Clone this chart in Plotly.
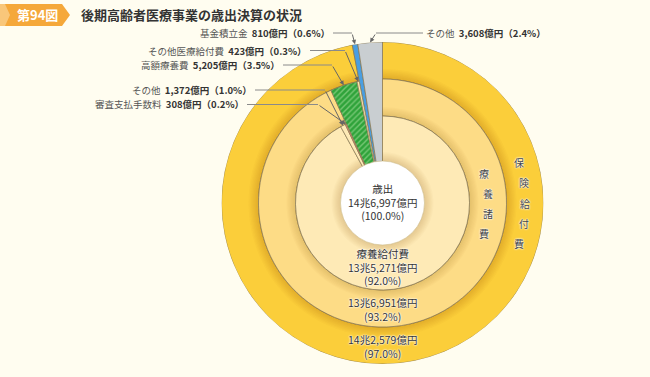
import math
import plotly.graph_objects as go

W, H = 650, 377

# ---------------- data ----------------
title_tag = "第94図"
title_text = "後期高齢者医療事業の歳出決算の状況"

total_label = "歳出"
total_value = 146997          # 億円
total_pct = 100.0

outer_names = ["保険給付費", "基金積立金", "その他"]
outer_values = [142579, 810, 3608]
outer_pcts = [97.0, 0.6, 2.4]

middle_names = ["療養諸費", "高額療養費", "その他医療給付費"]
middle_values = [136951, 5205, 423]
middle_pcts = [93.2, 3.5, 0.3]

inner_names = ["療養給付費", "その他", "審査支払手数料"]
inner_values = [135271, 1372, 308]
inner_pcts = [92.0, 1.0, 0.2]

# ---------------- geometry / style ----------------
CX, CY = 382.5, 203.0
R_OUT, R_MID, R_IN, R_WHITE = 161.0, 124.0, 87.0, 42.0
BG = "#FFFDF0"
Y1, Y2, Y3 = "#FBCE3A", "#FDDC86", "#FEEAB6"
BLUE, GREY, SALMON, LIGHT = "#4A9EE0", "#C9CED1", "#F0957C", "#FBEBB0"
GREEN_BG, GREEN_FG = "#2FA33A", "#BFEBB0"
EDGE = "#857650"
FONT = "Noto Sans CJK JP"


def px(x):
    return x / W


def py(y):
    return 1 - y / H


def fmt(v):
    cho, oku = divmod(v, 10000)
    return f"{cho}兆{oku:,}億円" if cho else f"{oku:,}億円"


def ang(v):
    return v / total_value * 360.0


def polar_px(r, a):
    t = math.radians(a)
    return CX + r * math.sin(t), CY - r * math.cos(t)


# cumulative angles (clockwise from 12 o'clock)
a_hoken = ang(outer_values[0])
a_kikin = a_hoken + ang(outer_values[1])
b_ryoyo = ang(middle_values[0])
b_kogaku = b_ryoyo + ang(middle_values[1])
c_kyufu = ang(inner_values[0])
c_other = c_kyufu + ang(inner_values[1])

fig = go.Figure()


def slice_(a0, a1, base, top, color, pattern=None):
    marker = dict(color=color, line=dict(color=EDGE, width=0.7))
    if pattern:
        marker["pattern"] = pattern
    fig.add_trace(go.Barpolar(theta=[(a0 + a1) / 2], width=[a1 - a0],
                              base=[base], r=[top - base], marker=marker,
                              hoverinfo="skip", showlegend=False))


def shadow(a0, a1, base, depth, strength, n=8):
    fig.add_trace(go.Barpolar(
        theta=[(a0 + a1) / 2] * n, width=[a1 - a0] * n, base=[base] * n,
        r=[depth * (n - i) / n for i in range(n)],
        marker=dict(color=f"rgba(130,90,0,{strength / n:.3f})", line=dict(width=0)),
        hoverinfo="skip", showlegend=False))


# outer ring
slice_(0, a_hoken, R_MID, R_OUT, Y1)
shadow(0, a_hoken, R_MID, 10, 0.22)
slice_(a_hoken, a_kikin, 0, R_OUT, BLUE)
slice_(a_kikin, 360, 0, R_OUT, GREY)
# middle ring
slice_(0, b_ryoyo, R_IN, R_MID, Y2)
shadow(0, b_ryoyo, R_IN, 9, 0.2)
slice_(b_ryoyo, b_kogaku, 0, R_MID, GREEN_BG,
       pattern=dict(shape="/", fgcolor=GREEN_FG, bgcolor=GREEN_BG, size=4, solidity=0.35))
slice_(b_kogaku, a_hoken, 0, R_MID, LIGHT)
# inner ring
slice_(0, c_kyufu, 0, R_IN, Y3)
shadow(0, c_kyufu, R_WHITE, 9, 0.2)
slice_(c_kyufu, c_other, 0, R_IN, Y3)
slice_(c_other, b_ryoyo, 0, R_IN, SALMON)

fig.update_layout(
    width=W, height=H, margin=dict(l=0, r=0, t=0, b=0),
    paper_bgcolor=BG, plot_bgcolor=BG,
    font=dict(family=FONT, color="#333"),
    polar=dict(
        domain=dict(x=[px(CX - R_OUT), px(CX + R_OUT)], y=[py(CY + R_OUT), py(CY - R_OUT)]),
        bgcolor="rgba(0,0,0,0)", bargap=0, hole=0,
        radialaxis=dict(visible=False, range=[0, R_OUT]),
        angularaxis=dict(visible=False, rotation=90, direction="clockwise"),
    ),
)

shapes = []
# white centre disc
shapes.append(dict(type="circle", xref="paper", yref="paper",
                   x0=px(CX - R_WHITE), x1=px(CX + R_WHITE),
                   y0=py(CY + R_WHITE), y1=py(CY - R_WHITE),
                   fillcolor="#FFFFFF", line=dict(color="#C9B98A", width=0.6)))


def path(points):
    return "M " + " L ".join(f"{px(x):.5f},{py(y):.5f}" for x, y in points) + " Z"


# title tag
shapes.append(dict(type="path", xref="paper", yref="paper",
                   path=path([(0, 4), (62, 4), (70, 15), (62, 26), (0, 26)]),
                   fillcolor="#F5A83A", line=dict(width=0)))
shapes.append(dict(type="path", xref="paper", yref="paper",
                   path=path([(0, 4), (5, 4), (10, 15), (5, 26), (0, 26)]),
                   fillcolor="#F9C77A", line=dict(width=0)))

ann = []


def text_ann(x, y, text, size, color, xanchor="center", shadow_=None, bold=False):
    f = dict(size=size, color=color, family=FONT)
    if shadow_:
        f["shadow"] = shadow_
    ann.append(dict(x=px(x), y=py(y), xref="paper", yref="paper",
                    xanchor=xanchor, yanchor="middle", borderpad=0,
                    text=f"<b>{text}</b>" if bold else text, showarrow=False, font=f))


text_ann(37, 15, title_tag, 13, "#FFFFFF", bold=True)
text_ann(80, 15, title_text, 13, "#333333", xanchor="left", bold=True)

LINE_C = "#8a8a8a"


def callout(name, value, pct, text_x, text_y, bend_x, r, a, side="left"):
    label = f"<span style='color:#555'>{name}</span>  <b>{fmt(value)}（{pct:.1f}%）</b>"
    text_ann(text_x, text_y, label, 9.5, "#333", xanchor="right" if side == "left" else "left")
    x0 = text_x + 2 if side == "left" else text_x - 2
    shapes.append(dict(type="line", xref="paper", yref="paper",
                       x0=px(x0), x1=px(bend_x), y0=py(text_y), y1=py(text_y),
                       line=dict(color=LINE_C, width=1)))
    tx, ty = polar_px(r, a)
    ann.append(dict(x=px(tx), y=py(ty), xref="paper", yref="paper", text="",
                    showarrow=True, ax=bend_x - tx, ay=text_y - ty,
                    arrowhead=2, arrowsize=0.9, arrowwidth=1, arrowcolor="#666"))


callout(outer_names[1], outer_values[1], outer_pcts[1], 331, 33, 352, R_OUT, (a_hoken + a_kikin) / 2)
callout(outer_names[2], outer_values[2], outer_pcts[2], 425, 33, 376, R_OUT, (a_kikin + 360) / 2, side="right")
callout(middle_names[2], middle_values[2], middle_pcts[2], 308, 50.5, 345, R_MID, (b_kogaku + a_hoken) / 2)
callout(middle_names[1], middle_values[1], middle_pcts[1], 281, 65, 332, R_MID, (b_ryoyo + b_kogaku) / 2)
callout(inner_names[1], inner_values[1], inner_pcts[1], 253, 90, 325, R_IN, (c_kyufu + c_other) / 2)
callout(inner_names[2], inner_values[2], inner_pcts[2], 245, 104.5, 318, R_IN, (c_other + b_ryoyo) / 2)

HALO = "0 0 2px #fff, 0 0 2px #fff, 0 0 1px #fff"


def centre_text(lines, y_mid, size=10.5):
    text_ann(CX, y_mid, "<br>".join(lines), size, "#333", shadow_=HALO)


centre_text([total_label, fmt(total_value), f"({total_pct:.1f}%)"], CY - 1)
centre_text([inner_names[0], fmt(inner_values[0]), f"({inner_pcts[0]:.1f}%)"],
            CY + (R_WHITE + R_IN) / 2 - 0.5)
centre_text([fmt(middle_values[0]), f"({middle_pcts[0]:.1f}%)"], CY + (R_IN + R_MID) / 2 + 0.5)
centre_text([fmt(outer_values[0]), f"({outer_pcts[0]:.1f}%)"], CY + (R_MID + R_OUT) / 2 + 1)


def vertical_text(word, r, step):
    n = len(word)
    for i, ch in enumerate(word):
        dy = (i - (n - 1) / 2) * step
        x = CX + math.sqrt(r * r - dy * dy)
        text_ann(x, CY + dy, ch, 10, "#444", shadow_=HALO)


vertical_text(middle_names[0], (R_IN + R_MID) / 2, 20)
vertical_text(outer_names[0], (R_MID + R_OUT) / 2, 20.3)

fig.update_layout(shapes=shapes, annotations=ann)
fig.write_html("out.html",
               config={"displayModeBar": False},
               post_script="document.body.style.margin='0';"
                           "document.body.style.background='#FFFDF0';")
